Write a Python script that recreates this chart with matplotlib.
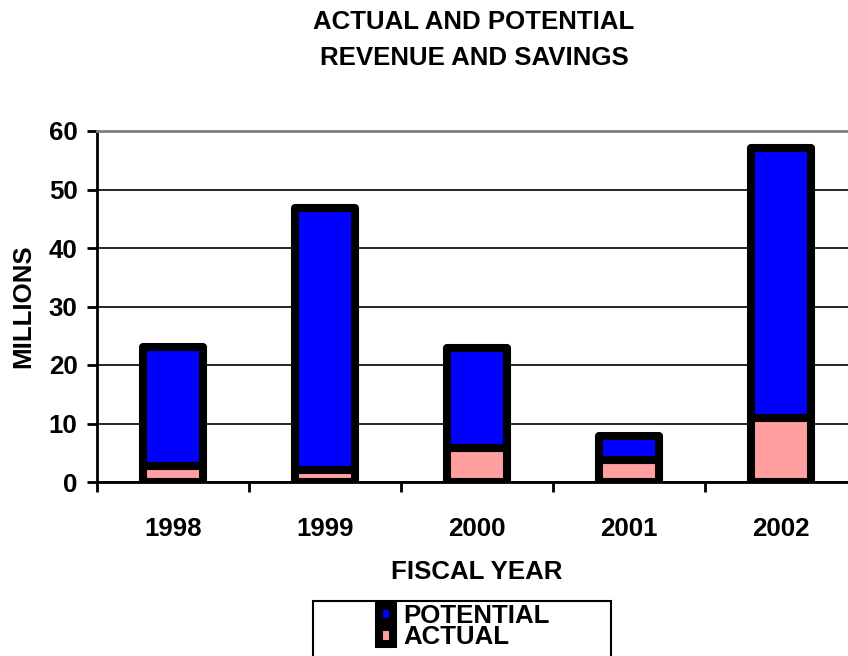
import matplotlib.pyplot as plt
from matplotlib.patches import Patch, Rectangle

plt.rcParams['font.family'] = ['Liberation Sans', 'DejaVu Sans']
plt.rcParams['font.weight'] = 'bold'

#--- Data ---#
years = ['1998', '1999', '2000', '2001', '2002']
actual = [2.7, 2.0, 5.8, 3.8, 10.9]
potential = [20.3, 44.8, 17.1, 4.1, 46.2]
y_ticks = [0, 10, 20, 30, 40, 50, 60]

BLUE = '#0000FF'
PINK = '#FF9F9F'
FS = 18.6
EDGE = 5.8

fig = plt.figure(figsize=(8.48, 6.56), dpi=100)
# axes reaches past the right edge of the figure, like the original
ax = fig.add_axes([97/848, 1-482/656, 760/848, 351/656])

x = list(range(len(years)))
ax.bar(x, actual, width=0.395, color=PINK, edgecolor='black',
       linewidth=EDGE, joinstyle='round', zorder=3)
ax.bar(x, potential, width=0.395, bottom=actual, color=BLUE,
       edgecolor='black', linewidth=EDGE, joinstyle='round', zorder=3)

ax.set_xlim(-0.5, 4.5)
ax.set_ylim(0, 60)
ax.set_yticks(y_ticks)
ax.set_yticklabels([str(v) for v in y_ticks], fontsize=FS, fontweight='bold')
ax.set_xticks(x)
ax.set_xticklabels(years, fontsize=FS, fontweight='bold')
ax.set_xticks([i + 0.5 for i in range(-1, 5)], minor=True)
ax.tick_params(axis='x', which='major', length=0, pad=25)
ax.tick_params(axis='x', which='minor', length=7, width=2, direction='out')
ax.tick_params(axis='y', length=7, width=2, pad=7)

ax.grid(axis='y', color='black', linewidth=1.2, zorder=0)
ax.set_axisbelow(True)
for s in ['left', 'bottom']:
    ax.spines[s].set_linewidth(2)
ax.spines['top'].set_color('#808080')
ax.spines['top'].set_linewidth(2)
ax.spines['right'].set_visible(False)

ax.set_ylabel('MILLIONS', fontsize=FS, fontweight='bold', labelpad=10)
ax.set_xlabel('FISCAL YEAR', fontsize=FS, fontweight='bold', labelpad=14)

fig.text(474/848, 1-10/656, 'ACTUAL AND POTENTIAL\nREVENUE AND SAVINGS',
         ha='center', va='top', fontsize=FS, fontweight='bold', linespacing=1.65)

#--- Legend ---#
handles = [Patch(facecolor=BLUE, edgecolor='black', linewidth=EDGE, joinstyle='round'),
           Patch(facecolor=PINK, edgecolor='black', linewidth=EDGE, joinstyle='round')]
fig.legend(handles, ['POTENTIAL', 'ACTUAL'], loc='upper left',
           bbox_to_anchor=(379/848, 1-604/656), frameon=False,
           prop={'weight': 'bold', 'size': FS},
           handlelength=0.55, handleheight=0.62, handletextpad=0.4,
           labelspacing=-0.1, borderpad=0, borderaxespad=0)
fig.patches.append(Rectangle((313/848, -0.05), 298/848, 0.05 + 1-601/656,
                             transform=fig.transFigure, fill=False,
                             edgecolor='black', linewidth=1.5))

fig.savefig('out.png', dpi=100)
